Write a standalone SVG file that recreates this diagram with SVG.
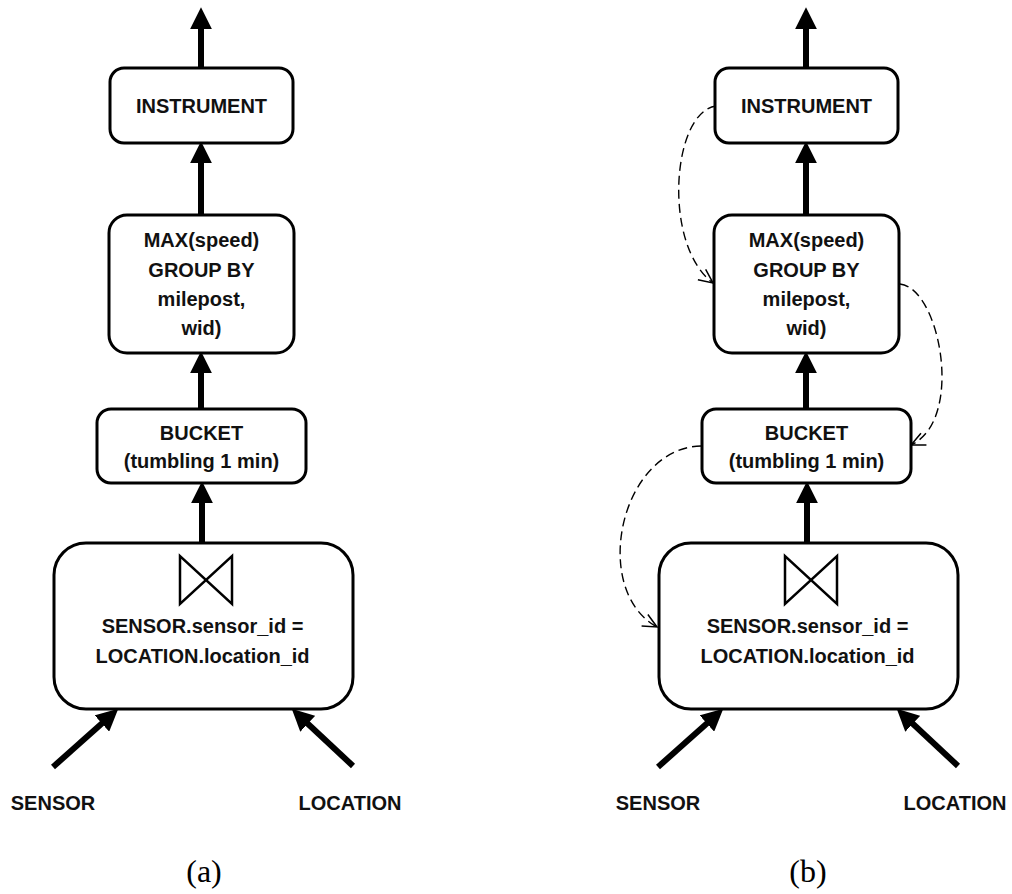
<svg xmlns="http://www.w3.org/2000/svg" width="1012" height="894" viewBox="0 0 1012 894">
<defs>
<style>
.box{fill:#fff;stroke:#000;stroke-width:3}
.t{font-family:"Liberation Sans",Arial,sans-serif;font-weight:bold;font-size:20px;fill:#111;text-anchor:middle}
.cap{font-family:"Liberation Serif","Times New Roman",serif;font-size:32px;fill:#000;text-anchor:middle}
.thick{stroke:#000;stroke-width:6;fill:none;marker-end:url(#head)}
.dash{stroke:#000;stroke-width:1.4;fill:none;stroke-dasharray:9 5;marker-end:url(#open)}
.bow{fill:none;stroke:#000;stroke-width:2.5;stroke-linejoin:miter}
</style>
<marker id="head" markerUnits="userSpaceOnUse" markerWidth="22" markerHeight="22" viewBox="0 0 20 20" refX="2" refY="10" orient="auto">
<path d="M0,0 L20,10 L0,20 Z" fill="#000"/>
</marker>
<marker id="open" markerUnits="userSpaceOnUse" markerWidth="18" markerHeight="18" viewBox="-2 -9 18 18" refX="14" refY="0" orient="auto">
<path d="M0,-6.5 L14,0 L0,6.5" fill="none" stroke="#000" stroke-width="1.5"/>
</marker>
</defs>
<rect width="1012" height="894" fill="#fff"/>

<g id="connectors">
<!-- panel a -->
<line class="thick" x1="201" y1="68" x2="201" y2="27"/>
<line class="thick" x1="201" y1="215" x2="201" y2="161"/>
<line class="thick" x1="201" y1="409" x2="201" y2="371"/>
<line class="thick" x1="202" y1="543" x2="202" y2="501"/>
<line class="thick" x1="53" y1="767" x2="103.5" y2="722"/>
<line class="thick" x1="353" y1="766" x2="306.2" y2="722.3"/>
<!-- panel b -->
<line class="thick" x1="806" y1="68" x2="806" y2="27"/>
<line class="thick" x1="806" y1="215" x2="806" y2="161"/>
<line class="thick" x1="806" y1="409" x2="806" y2="371"/>
<line class="thick" x1="807" y1="543" x2="807" y2="501"/>
<line class="thick" x1="658" y1="767" x2="708.5" y2="722"/>
<line class="thick" x1="958" y1="766" x2="911.2" y2="722.3"/>
<path class="dash" d="M716,106 C672,112 662,245 713,283"/>
<path class="dash" d="M900,284 C940,288 965,420 911,445"/>
<path class="dash" d="M701,446 C620,448 590,590 657,627"/>
</g>

<g id="a-instrument">
<rect class="box" x="110" y="68" width="183" height="75" rx="14"/>
<text class="t" x="201.5" y="113">INSTRUMENT</text>
</g>
<g id="a-max">
<rect class="box" x="109" y="215" width="185" height="138" rx="18"/>
<text class="t" x="201.5" y="247">MAX(speed)</text>
<text class="t" x="201.5" y="277">GROUP BY</text>
<text class="t" x="201.5" y="306">milepost,</text>
<text class="t" x="201.5" y="335">wid)</text>
</g>
<g id="a-bucket">
<rect class="box" x="97" y="409" width="209" height="74" rx="14"/>
<text class="t" x="201.5" y="440">BUCKET</text>
<text class="t" x="201.5" y="468">(tumbling 1 min)</text>
</g>
<g id="a-join">
<rect class="box" x="54" y="543" width="299" height="166" rx="32"/>
<path class="bow" d="M180,556 L180,604 L232,556 L232,604 Z"/>
<text class="t" x="202.5" y="633">SENSOR.sensor_id =</text>
<text class="t" x="202.5" y="663">LOCATION.location_id</text>
</g>
<g id="a-sensor"><text class="t" x="53" y="810">SENSOR</text></g>
<g id="a-location"><text class="t" x="350" y="810">LOCATION</text></g>
<g id="a-caption"><text class="cap" x="204" y="882">(a)</text></g>

<g id="b-instrument">
<rect class="box" x="715" y="68" width="183" height="75" rx="14"/>
<text class="t" x="806.5" y="113">INSTRUMENT</text>
</g>
<g id="b-max">
<rect class="box" x="714" y="215" width="185" height="138" rx="18"/>
<text class="t" x="806.5" y="247">MAX(speed)</text>
<text class="t" x="806.5" y="277">GROUP BY</text>
<text class="t" x="806.5" y="306">milepost,</text>
<text class="t" x="806.5" y="335">wid)</text>
</g>
<g id="b-bucket">
<rect class="box" x="702" y="409" width="209" height="74" rx="14"/>
<text class="t" x="806.5" y="440">BUCKET</text>
<text class="t" x="806.5" y="468">(tumbling 1 min)</text>
</g>
<g id="b-join">
<rect class="box" x="659" y="543" width="299" height="166" rx="32"/>
<path class="bow" d="M785,556 L785,604 L837,556 L837,604 Z"/>
<text class="t" x="807.5" y="633">SENSOR.sensor_id =</text>
<text class="t" x="807.5" y="663">LOCATION.location_id</text>
</g>
<g id="b-sensor"><text class="t" x="658" y="810">SENSOR</text></g>
<g id="b-location"><text class="t" x="955" y="810">LOCATION</text></g>
<g id="b-caption"><text class="cap" x="808" y="882">(b)</text></g>
</svg>
